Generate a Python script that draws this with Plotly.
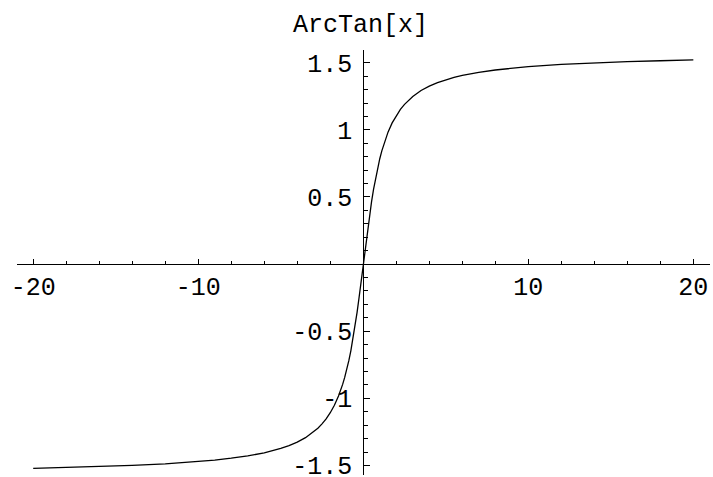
import plotly.graph_objects as go

# Sampled points of the curve ArcTan[x] on [0, 20]; the curve is odd,
# so the negative half is the mirror image of these points.
x_pos = [0, 0.125, 0.25, 0.375, 0.5, 0.625, 0.75, 0.875, 1, 1.125, 1.25, 1.375,
         1.5, 1.75, 2, 2.25, 2.5, 2.75, 3, 3.5, 4, 4.5, 5, 5.5, 6, 7, 8, 9, 10,
         12, 14, 16, 18, 20]
y_pos = [0.0, 0.124, 0.245, 0.359, 0.464, 0.559, 0.644, 0.719, 0.785, 0.844,
         0.896, 0.942, 0.983, 1.052, 1.107, 1.153, 1.190, 1.222, 1.249, 1.293,
         1.326, 1.352, 1.373, 1.391, 1.406, 1.429, 1.446, 1.460, 1.471, 1.488,
         1.500, 1.508, 1.515, 1.521]

x_vals = [-v for v in reversed(x_pos[1:])] + x_pos
y_vals = [-v for v in reversed(y_pos[1:])] + y_pos

x_tick_vals = [-20, -10, 10, 20]
x_tick_text = ["-20", "-10", "10", "20"]
y_tick_vals = [-1.5, -1, -0.5, 0.5, 1, 1.5]
y_tick_text = ["-1.5", "-1", "-0.5", "0.5", "1", "1.5"]
title_text = "ArcTan[x]"

W, H = 713, 477
FONT = "Liberation Mono"
FS = 25

fig = go.Figure()
fig.add_trace(go.Scatter(
    x=x_vals, y=y_vals, mode="lines",
    line=dict(color="black", width=1.3),
    hoverinfo="skip", showlegend=False,
))

fig.update_layout(
    width=W, height=H,
    margin=dict(l=0, r=0, t=0, b=0, autoexpand=False),
    paper_bgcolor="white", plot_bgcolor="white",
    font=dict(family=FONT, size=FS, color="black"),
    xaxis=dict(
        range=[-21.0, 21.01],
        domain=[16.7 / W, 710 / W],
        anchor="free", position=1 - 264.3 / H,
        showgrid=False, zeroline=False,
        showline=True, linecolor="black", linewidth=1,
        tickmode="array", tickvals=x_tick_vals, ticktext=x_tick_text,
        ticks="inside", ticklen=5, tickwidth=1, tickcolor="black",
        minor=dict(tickmode="linear", tick0=0, dtick=2, ticks="inside",
                   ticklen=3, tickwidth=1, tickcolor="black", showgrid=False),
        tickfont=dict(family=FONT, size=FS, color="black"),
        ticklabeloverflow="allow",
        ticklabelstandoff=0,
        automargin=False,
        fixedrange=True,
    ),
    yaxis=dict(
        range=[-1.571, 1.595],
        domain=[1 - 475 / H, 1 - 50 / H],
        anchor="free", position=363.3 / W,
        showgrid=False, zeroline=False,
        showline=True, linecolor="black", linewidth=1,
        tickmode="array", tickvals=y_tick_vals, ticktext=y_tick_text,
        ticks="inside", ticklen=6, tickwidth=1, tickcolor="black",
        minor=dict(tickmode="linear", tick0=0, dtick=0.1, ticks="inside",
                   ticklen=4, tickwidth=1, tickcolor="black", showgrid=False),
        tickfont=dict(family=FONT, size=FS, color="black"),
        ticklabeloverflow="allow",
        ticklabelstandoff=6,
        automargin=False,
        fixedrange=True,
    ),
    annotations=[dict(
        text=title_text, xref="paper", yref="paper",
        x=360 / W, y=1 - 25 / H, xanchor="center", yanchor="middle",
        showarrow=False, font=dict(family=FONT, size=FS, color="black"),
    )],
)

fig.write_html("out.html", config={"displayModeBar": False})
